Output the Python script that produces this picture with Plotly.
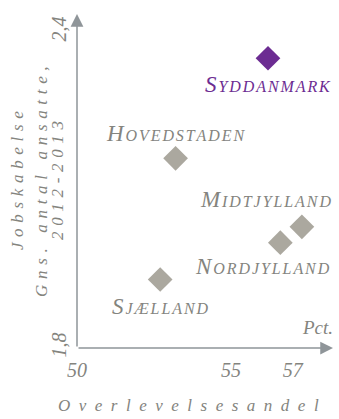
import plotly.graph_objects as go

# Regional start-up survival vs. job creation
regions = ["Syddanmark", "Hovedstaden", "Midtjylland", "Nordjylland", "Sjælland"]
survival_pct = [56.2, 53.2, 57.3, 56.6, 52.7]
jobs_avg = [2.35, 2.16, 2.03, 2.00, 1.93]

x_ticks = [50, 55, 57]
x_ticktext = ["50", "55", "57"]
y_ticks = [1.8, 2.4]
y_ticktext = ["1,8", "2,4"]

GRAY_TEXT = "#84847e"
GRAY_MARK = "#aba89f"
PURPLE = "#6c2c92"
AXIS = "#8f9599"
SERIF = "Liberation Serif"

W, H = 339, 419
M = dict(l=77, r=6, t=14, b=71)
PW = W - M["l"] - M["r"]
PH = H - M["t"] - M["b"]

highlight = "Syddanmark"
colors = [PURPLE if r == highlight else GRAY_MARK for r in regions]


def spaced(s, gap="\u2002"):
    return gap.join(s)


fig = go.Figure(
    go.Scatter(
        x=survival_pct,
        y=jobs_avg,
        mode="markers",
        marker=dict(symbol="diamond", size=19, color=colors, line=dict(width=0)),
        hoverinfo="skip",
    )
)

# region labels: (xanchor, xshift, yshift)
label_pos = {
    "Syddanmark": ("center", 0, -26),
    "Hovedstaden": ("center", 0, 25),
    "Midtjylland": ("right", 31, 27),
    "Nordjylland": ("right", 52, -24),
    "Sjælland": ("center", 0, -27),
}
for r, xv, yv, c in zip(regions, survival_pct, jobs_avg, colors):
    xa, xs, ys = label_pos[r]
    fig.add_annotation(
        x=xv, y=yv, text=spaced(r, "\u200a"), showarrow=False,
        xanchor=xa, yanchor="middle", xshift=xs, yshift=ys,
        font=dict(family=SERIF, size=23, style="italic", variant="small-caps",
                  color=PURPLE if r == highlight else GRAY_TEXT),
    )

# axis lines with arrowheads
fig.add_annotation(x=1, y=0, xref="paper", yref="paper", ax=-PW, ay=0,
                   showarrow=True, arrowhead=2, arrowsize=1.7, arrowwidth=1.5,
                   arrowcolor=AXIS, text="", standoff=0)
fig.add_annotation(x=0, y=1, xref="paper", yref="paper", ax=0, ay=PH,
                   showarrow=True, arrowhead=2, arrowsize=1.7, arrowwidth=1.5,
                   arrowcolor=AXIS, text="", standoff=0)

# unit label
fig.add_annotation(x=1, y=0, xref="paper", yref="paper", text="Pct.",
                   showarrow=False, xanchor="right", yanchor="bottom", yshift=8, xshift=2,
                   font=dict(family=SERIF, size=19, style="italic", color=GRAY_TEXT))

# x axis title
fig.add_annotation(x=0.434, y=-0.171, xref="paper", yref="paper",
                   text=spaced("Overlevelsesandel", "\u2002"), showarrow=False,
                   xanchor="center", yanchor="middle",
                   font=dict(family=SERIF, size=17, style="italic", color=GRAY_TEXT))

# y axis title, three rotated lines
ytitle = [("Jobskabelse", -0.234), ("Gns. antal ansatte,", -0.141), ("2012-2013", -0.078)]
for txt, xp in ytitle:
    fig.add_annotation(x=xp, y=0.5, xref="paper", yref="paper", text=spaced(txt, "\u2004"),
                       showarrow=False, textangle=-90, xanchor="center", yanchor="middle",
                       font=dict(family=SERIF, size=17, style="italic", color=GRAY_TEXT))

fig.update_layout(
    width=W, height=H,
    margin=M,
    paper_bgcolor="white", plot_bgcolor="white",
    showlegend=False,
    font=dict(family=SERIF),
    xaxis=dict(
        range=[50, 58.31], tickvals=x_ticks, ticktext=x_ticktext,
        showgrid=False, zeroline=False, showline=False,
        ticks="", ticklabelstandoff=8,
        tickfont=dict(size=20, style="italic", color=GRAY_TEXT),
    ),
    yaxis=dict(
        range=[1.8, 2.434], tickvals=y_ticks, ticktext=y_ticktext, tickangle=-90,
        showgrid=False, zeroline=False, showline=False,
        ticks="", ticklabelstandoff=6,
        tickfont=dict(size=20, style="italic", color=GRAY_TEXT),
    ),
)

fig.write_html("out.html")
